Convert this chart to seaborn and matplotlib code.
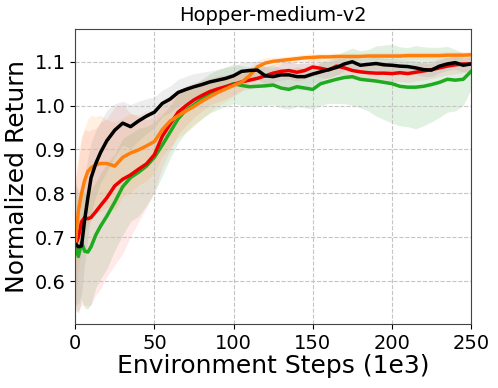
import numpy as np
import pandas as pd
import matplotlib
matplotlib.use('Agg')
import matplotlib.pyplot as plt
import seaborn as sns

# x grid (1e3 environment steps)
steps = [0, 2, 4, 6, 8, 10, 13, 16, 20,
         25, 30, 35, 40, 45, 50, 55, 60, 65, 70, 75, 80, 85, 90, 95, 100,
         105, 110, 115, 120, 125, 130, 135, 140, 145, 150, 155, 160, 165, 170, 175,
         180, 185, 190, 195, 200, 205, 210, 215, 220, 225, 230, 235, 240, 245, 250]

black_mean = [0.685, 0.678, 0.68, 0.74, 0.79, 0.835, 0.868, 0.893, 0.92,
              0.944, 0.96, 0.952, 0.965, 0.976, 0.985, 1.005, 1.015, 1.03, 1.037, 1.043, 1.048, 1.054, 1.058, 1.062, 1.068,
              1.078, 1.08, 1.081, 1.068, 1.066, 1.07, 1.07, 1.066, 1.066, 1.072, 1.077, 1.082, 1.087, 1.095, 1.10,
              1.092, 1.094, 1.096, 1.093, 1.092, 1.09, 1.089, 1.086, 1.082, 1.081, 1.09, 1.095, 1.098, 1.092, 1.095]
black_std = [0.14, 0.13, 0.11, 0.10, 0.09, 0.08, 0.075, 0.07, 0.07,
             0.06, 0.05, 0.05, 0.045, 0.04, 0.035, 0.03, 0.03, 0.03, 0.03, 0.03, 0.028, 0.025, 0.025, 0.025, 0.022,
             0.02, 0.02, 0.02, 0.02, 0.02, 0.025, 0.03, 0.03, 0.03, 0.025, 0.02, 0.018, 0.018, 0.015, 0.015,
             0.015, 0.015, 0.015, 0.015, 0.015, 0.015, 0.015, 0.015, 0.015, 0.015, 0.015, 0.015, 0.015, 0.015, 0.015]

orange_mean = [0.68, 0.76, 0.80, 0.83, 0.85, 0.858, 0.865, 0.868, 0.868,
               0.862, 0.882, 0.892, 0.899, 0.908, 0.918, 0.945, 0.965, 0.977, 0.988, 0.998, 1.01, 1.02, 1.03, 1.038, 1.046,
               1.053, 1.068, 1.088, 1.097, 1.101, 1.103, 1.105, 1.107, 1.109, 1.110, 1.111, 1.111, 1.112, 1.112, 1.112,
               1.112, 1.113, 1.113, 1.113, 1.113, 1.113, 1.114, 1.114, 1.114, 1.114, 1.114, 1.115, 1.115, 1.115, 1.116]
orange_std = [0.15, 0.13, 0.13, 0.12, 0.12, 0.12, 0.11, 0.11, 0.10,
              0.10, 0.09, 0.09, 0.08, 0.08, 0.07, 0.06, 0.06, 0.05, 0.05, 0.045, 0.04, 0.035, 0.03, 0.03, 0.025,
              0.02, 0.018, 0.015, 0.012, 0.01, 0.008, 0.008, 0.008, 0.008, 0.008, 0.008, 0.008, 0.008, 0.008, 0.008,
              0.008, 0.008, 0.008, 0.008, 0.008, 0.008, 0.008, 0.008, 0.008, 0.008, 0.008, 0.008, 0.008, 0.008, 0.008]

red_mean = [0.68, 0.70, 0.735, 0.745, 0.742, 0.745, 0.758, 0.772, 0.79,
            0.817, 0.832, 0.842, 0.855, 0.867, 0.888, 0.93, 0.958, 0.985, 1.0, 1.013, 1.023, 1.032, 1.038, 1.043, 1.048,
            1.054, 1.058, 1.062, 1.068, 1.074, 1.078, 1.08, 1.076, 1.08, 1.088, 1.085, 1.081, 1.09, 1.086, 1.08,
            1.077, 1.075, 1.074, 1.074, 1.073, 1.075, 1.073, 1.076, 1.079, 1.082, 1.086, 1.09, 1.093, 1.095, 1.095]
red_std = [0.15, 0.17, 0.19, 0.20, 0.20, 0.20, 0.19, 0.19, 0.18,
           0.18, 0.17, 0.14, 0.12, 0.10, 0.085, 0.07, 0.06, 0.05, 0.045, 0.04, 0.035, 0.03, 0.03, 0.028, 0.025,
           0.02, 0.02, 0.02, 0.02, 0.02, 0.02, 0.02, 0.02, 0.02, 0.02, 0.02, 0.02, 0.02, 0.02, 0.02,
           0.02, 0.02, 0.02, 0.02, 0.02, 0.02, 0.02, 0.02, 0.02, 0.02, 0.02, 0.02, 0.02, 0.02, 0.02]

green_mean = [0.68, 0.656, 0.688, 0.668, 0.666, 0.678, 0.705, 0.725, 0.748,
              0.78, 0.815, 0.836, 0.848, 0.862, 0.882, 0.91, 0.94, 0.97, 0.99, 1.002, 1.015, 1.028, 1.036, 1.043, 1.05,
              1.046, 1.043, 1.044, 1.045, 1.047, 1.04, 1.037, 1.043, 1.04, 1.037, 1.05, 1.055, 1.06, 1.064, 1.066,
              1.06, 1.058, 1.056, 1.053, 1.05, 1.044, 1.042, 1.042, 1.044, 1.048, 1.053, 1.06, 1.058, 1.06, 1.078]
green_std = [0.14, 0.13, 0.13, 0.13, 0.13, 0.13, 0.12, 0.12, 0.12,
             0.11, 0.11, 0.10, 0.10, 0.09, 0.08, 0.07, 0.06, 0.055, 0.05, 0.045, 0.045, 0.045, 0.045, 0.045, 0.045,
             0.045, 0.045, 0.045, 0.045, 0.045, 0.045, 0.045, 0.045, 0.045, 0.045, 0.05, 0.05, 0.055, 0.06, 0.065,
             0.065, 0.07, 0.08, 0.085, 0.09, 0.09, 0.09, 0.095, 0.09, 0.085, 0.08, 0.075, 0.07, 0.06, 0.04]

series = [
    ('green', green_mean, green_std, '#1faa1f', '#2ca02c'),
    ('red', red_mean, red_std, '#ee0000', '#ff6666'),
    ('orange', orange_mean, orange_std, '#ff7f0e', '#ff9933'),
    ('black', black_mean, black_std, 'black', 'gray'),
]

fig, ax = plt.subplots(figsize=(4.98, 3.88), dpi=100)

for name, mean, std, c, fc in series:
    m = np.array(mean)
    s = np.array(std)
    ax.fill_between(steps, m - s, m + s, color=fc, alpha=0.14, linewidth=0)

for name, mean, std, c, fc in series:
    df = pd.DataFrame({'step': steps, 'ret': mean})
    sns.lineplot(data=df, x='step', y='ret', color=c, linewidth=2.5, ax=ax)

ax.set_xlim(0, 250)
ax.set_ylim(0.502, 1.174)
ax.set_xticks([0, 50, 100, 150, 200, 250])
ax.set_yticks([0.6, 0.7, 0.8, 0.9, 1.0, 1.1])
ax.grid(True, linestyle='--', color='#c4c4c4', linewidth=0.8)
ax.tick_params(labelsize=14)
ax.set_xlabel('Environment Steps (1e3)', fontsize=18, labelpad=1)
ax.set_ylabel('Normalized Return', fontsize=18)
ax.set_title('Hopper-medium-v2', fontsize=14)
for sp in ax.spines.values():
    sp.set_color('#444444')

plt.subplots_adjust(left=0.151, right=0.946, top=0.9245, bottom=0.165)
plt.savefig('out.png', dpi=100)
